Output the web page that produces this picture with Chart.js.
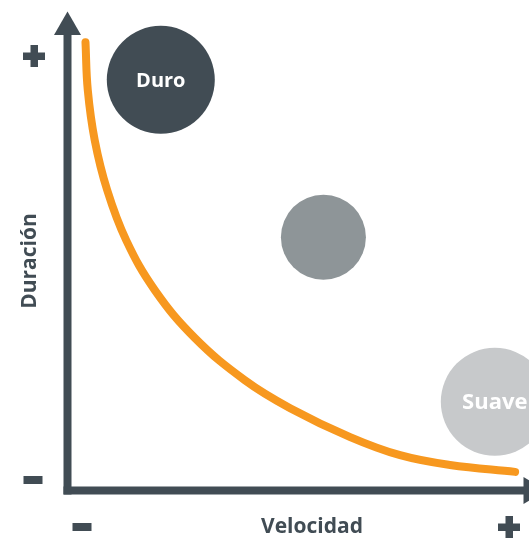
<!DOCTYPE html>
<html>
<head>
<meta charset="utf-8">
<script src="https://cdn.jsdelivr.net/npm/chart.js@4/dist/chart.umd.min.js"></script>
<style>
  html, body { margin: 0; padding: 0; background: #ffffff; }
  #wrap { width: 529px; height: 540px; position: relative; }
</style>
</head>
<body>
<div id="wrap"><canvas id="c"></canvas></div>
<script>
// Curve (Duración vs Velocidad), axis units 0–100
const curveX = [4.0, 4.5, 6.0, 8.7, 12.8, 19.0, 27.7, 38.5, 48.3, 61.3, 72.1, 82.9, 97.0];
const curveY = [91.4, 81.6, 71.4, 61.2, 51.0, 40.8, 31.0, 22.4, 16.7, 10.8, 7.1, 5.1, 3.7];

// Bubbles
const bubbleLabels = ["Duro", "", "Suave"];
const bubbleX = [20.3, 55.5, 92.6];
const bubbleY = [83.7, 51.6, 18.0];
const bubbleR = [54, 42.5, 54];
const bubbleColors = ["#414c54", "#8e9598", "#c7c9cb"];
const bubbleFontSizes = [20, 0, 22];

// Axis text
const xTitle = "Velocidad";
const yTitle = "Duración";

const DARK = "#414c54";
const ORANGE = "#f7981f";
const FONT = "'Open Sans'";

const decorPlugin = {
  id: 'decor',
  beforeDatasetsDraw(chart) {
    const ctx = chart.ctx;
    const xs = chart.scales.x, ys = chart.scales.y;
    const x0 = xs.getPixelForValue(0) + 0.5;
    const y0 = ys.getPixelForValue(0) + 0.5;
    ctx.save();
    ctx.fillStyle = DARK;
    // y axis line
    ctx.fillRect(x0 - 4, 33, 8, y0 + 4 - 33);
    // y arrow head
    ctx.beginPath();
    ctx.moveTo(x0, 11.5);
    ctx.lineTo(x0 + 13.5, 35);
    ctx.lineTo(x0 - 13.5, 35);
    ctx.closePath();
    ctx.fill();
    // x axis line
    ctx.fillRect(x0 - 4, y0 - 4, 524 - (x0 - 4), 8);
    // x arrow head
    ctx.beginPath();
    ctx.moveTo(547, y0);
    ctx.lineTo(523.5, y0 - 13.5);
    ctx.lineTo(523.5, y0 + 13.5);
    ctx.closePath();
    ctx.fill();
    ctx.restore();
  },
  afterDatasetsDraw(chart) {
    const ctx = chart.ctx;
    const xs = chart.scales.x, ys = chart.scales.y;
    ctx.save();
    // bubble labels
    ctx.fillStyle = "#ffffff";
    ctx.textAlign = "center";
    ctx.textBaseline = "middle";
    bubbleLabels.forEach((t, i) => {
      if (!t) return;
      ctx.font = "bold " + bubbleFontSizes[i] + "px " + FONT;
      ctx.fillText(t, xs.getPixelForValue(bubbleX[i]), ys.getPixelForValue(bubbleY[i]) + 1);
    });
    // plus / minus signs
    ctx.fillStyle = DARK;
    const plus = (cx, cy) => {
      ctx.fillRect(cx - 11, cy - 3.5, 22, 7.5);
      ctx.fillRect(cx - 3.5, cy - 11, 7.5, 22);
    };
    const minus = (cx, cy) => { ctx.fillRect(cx - 9.5, cy - 4, 19, 8); };
    plus(34, 56);
    minus(33, 480);
    minus(82, 527);
    plus(509, 527);
    // axis titles
    ctx.fillStyle = DARK;
    ctx.font = "bold 21px " + FONT;
    ctx.textAlign = "center";
    ctx.textBaseline = "middle";
    ctx.fillText(xTitle, 312, 527);
    ctx.translate(30, 261);
    ctx.rotate(-Math.PI / 2);
    ctx.fillText(yTitle, 0, 0);
    ctx.restore();
  }
};

new Chart(document.getElementById('c'), {
  type: 'bubble',
  data: {
    datasets: [
      {
        type: 'line',
        data: curveX.map((x, i) => ({ x: x, y: curveY[i] })),
        borderColor: ORANGE,
        borderWidth: 8,
        borderCapStyle: 'round',
        borderJoinStyle: 'round',
        tension: 0.4,
        pointRadius: 0,
        fill: false,
        order: 2
      },
      {
        type: 'bubble',
        data: bubbleX.map((x, i) => ({ x: x, y: bubbleY[i], r: bubbleR[i] })),
        backgroundColor: bubbleColors,
        borderWidth: 0,
        hoverRadius: 0,
        order: 1
      }
    ]
  },
  options: {
    responsive: true,
    maintainAspectRatio: false,
    animation: false,
    devicePixelRatio: 1,
    layout: { autoPadding: false, padding: { left: 67, right: 0, top: 0, bottom: 50 } },
    plugins: { legend: { display: false }, tooltip: { enabled: false } },
    scales: {
      x: { type: 'linear', min: 0, max: 100, display: false },
      y: { type: 'linear', min: 0, max: 100, display: false }
    },
    clip: false
  },
  plugins: [decorPlugin]
});
</script>
</body>
</html>
